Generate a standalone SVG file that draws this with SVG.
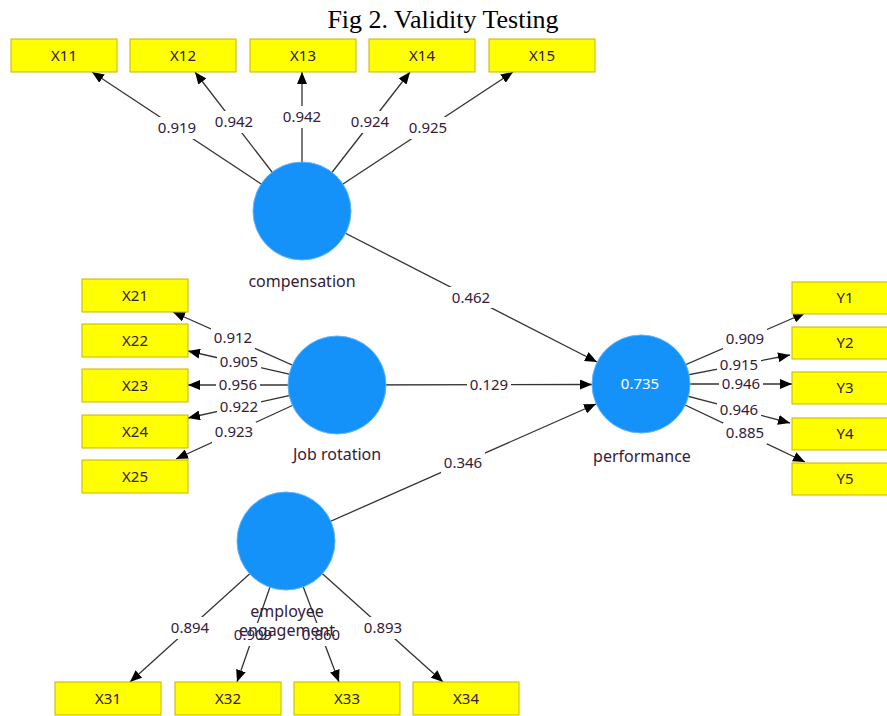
<svg xmlns="http://www.w3.org/2000/svg" width="887" height="716" viewBox="0 0 887 716">
  <style>
    .bg { fill: #ffffff; }
    .title { font-family: "Liberation Serif", "Times New Roman", serif; font-size: 26px; fill: #000; text-anchor: middle; }
    .ind rect { fill: #ffff00; stroke: #c8b400; stroke-width: 1; }
    .ind text { font-family: "Noto Sans", "Open Sans", sans-serif; font-size: 15px; fill: #33203a; text-anchor: middle; }
    .lv circle { fill: #1592fa; stroke: #5fb4ff; stroke-width: 1; }
    .lv text { font-family: "Noto Sans", "Open Sans", sans-serif; font-size: 16px; fill: #33203a; text-anchor: middle; }
    .lv text.r2 { font-size: 15px; fill: #ffffff; }
    .edge line { stroke: #333333; stroke-width: 1.3; marker-end: url(#arrow); }
    .edge rect { fill: #ffffff; }
    .edge text { font-family: "Noto Sans", "Open Sans", sans-serif; font-size: 15px; fill: #33203a; text-anchor: middle; }
  </style>
  <defs>
    <marker id="arrow" viewBox="0 0 12 10" refX="12" refY="5" markerWidth="12" markerHeight="10" markerUnits="userSpaceOnUse" orient="auto">
      <path d="M0,0 L12,5 L0,10 z" fill="#000000"/>
    </marker>
  </defs>
  <rect class="bg" x="0" y="0" width="887" height="716"/>
  <text class="title" x="443" y="28">Fig 2. Validity Testing</text>

  <!-- connectors: lines from construct centres, labels on white patches -->
  <g id="connectors" class="edge">
    <!-- compensation loadings -->
    <line x1="302" y1="211" x2="92" y2="72"/>
    <line x1="302" y1="211" x2="195" y2="72"/>
    <line x1="302" y1="211" x2="302" y2="72"/>
    <line x1="302" y1="211" x2="410" y2="72"/>
    <line x1="302" y1="211" x2="513" y2="72"/>
    <!-- job rotation loadings -->
    <line x1="337" y1="385" x2="173" y2="312"/>
    <line x1="337" y1="385" x2="188" y2="351"/>
    <line x1="337" y1="385" x2="188" y2="385"/>
    <line x1="337" y1="385" x2="188" y2="418"/>
    <line x1="337" y1="385" x2="176" y2="459"/>
    <!-- performance loadings -->
    <line x1="641" y1="384" x2="805" y2="313"/>
    <line x1="641" y1="384" x2="790" y2="355"/>
    <line x1="641" y1="384" x2="792" y2="384"/>
    <line x1="641" y1="384" x2="790" y2="423"/>
    <line x1="641" y1="384" x2="805" y2="462"/>
    <!-- employee engagement loadings -->
    <line x1="286" y1="541" x2="130" y2="682"/>
    <line x1="286" y1="541" x2="237" y2="682"/>
    <line x1="286" y1="541" x2="339" y2="682"/>
    <line x1="286" y1="541" x2="443" y2="682"/>
    <!-- structural paths -->
    <line x1="302" y1="211" x2="597" y2="362"/>
    <line x1="337" y1="385" x2="592" y2="384.5"/>
    <line x1="286" y1="541" x2="596" y2="404"/>

    <!-- label patches -->
    <rect x="155" y="117" width="44" height="22"/>
    <rect x="212" y="111" width="44" height="22"/>
    <rect x="280" y="106" width="44" height="22"/>
    <rect x="349" y="111" width="44" height="22"/>
    <rect x="406" y="117" width="44" height="22"/>
    <rect x="211" y="328" width="44" height="21"/>
    <rect x="217" y="353" width="44" height="19"/>
    <rect x="216" y="375" width="44" height="20"/>
    <rect x="217" y="397" width="44" height="19"/>
    <rect x="212" y="422" width="44" height="21"/>
    <rect x="723" y="328" width="44" height="21"/>
    <rect x="717" y="355" width="44" height="19"/>
    <rect x="719" y="374" width="44" height="20"/>
    <rect x="717" y="400" width="44" height="19"/>
    <rect x="723" y="423" width="44" height="21"/>
    <rect x="168" y="617" width="44" height="22"/>
    <rect x="231" y="623" width="44" height="23"/>
    <rect x="299" y="623" width="44" height="23"/>
    <rect x="361" y="617" width="44" height="22"/>
    <rect x="449" y="287" width="44" height="21"/>
    <rect x="467" y="375" width="44" height="20"/>
    <rect x="441" y="452" width="44" height="21"/>

    <!-- label values -->
    <text x="177" y="133">0.919</text>
    <text x="234" y="127">0.942</text>
    <text x="302" y="122">0.942</text>
    <text x="370" y="127">0.924</text>
    <text x="428" y="133">0.925</text>
    <text x="233" y="343">0.912</text>
    <text x="239" y="367">0.905</text>
    <text x="238" y="390">0.956</text>
    <text x="239" y="412">0.922</text>
    <text x="234" y="437">0.923</text>
    <text x="745" y="344">0.909</text>
    <text x="739" y="370">0.915</text>
    <text x="741" y="389">0.946</text>
    <text x="739" y="415">0.946</text>
    <text x="745" y="438">0.885</text>
    <text x="190" y="633">0.894</text>
    <text x="253" y="640">0.909</text>
    <text x="321" y="640">0.860</text>
    <text x="383" y="633">0.893</text>
    <text x="471" y="303">0.462</text>
    <text x="489" y="390">0.129</text>
    <text x="463" y="468">0.346</text>
  </g>

  <!-- latent constructs -->
  <g id="compensation" class="lv">
    <circle cx="302" cy="211" r="49"/>
    <text x="302" y="287">compensation</text>
  </g>
  <g id="job-rotation" class="lv">
    <circle cx="337" cy="385" r="49"/>
    <text x="337" y="460">Job rotation</text>
  </g>
  <g id="performance" class="lv">
    <circle cx="641" cy="384" r="49"/>
    <text class="r2" x="640" y="389">0.735</text>
    <text x="642" y="462">performance</text>
  </g>
  <g id="employee-engagement" class="lv">
    <circle cx="286" cy="541" r="49"/>
    <text x="287" y="617">employee</text>
    <text x="287" y="636">engagement</text>
  </g>

  <!-- indicators -->
  <g id="X11" class="ind"><rect x="11" y="39" width="106" height="33"/><text x="64" y="61">X11</text></g>
  <g id="X12" class="ind"><rect x="130" y="39" width="106" height="33"/><text x="183" y="61">X12</text></g>
  <g id="X13" class="ind"><rect x="250" y="39" width="106" height="33"/><text x="303" y="61">X13</text></g>
  <g id="X14" class="ind"><rect x="369" y="39" width="106" height="33"/><text x="422" y="61">X14</text></g>
  <g id="X15" class="ind"><rect x="489" y="39" width="106" height="33"/><text x="542" y="61">X15</text></g>

  <g id="X21" class="ind"><rect x="82" y="279" width="106" height="33"/><text x="135" y="301">X21</text></g>
  <g id="X22" class="ind"><rect x="82" y="324" width="106" height="33"/><text x="135" y="346">X22</text></g>
  <g id="X23" class="ind"><rect x="82" y="369" width="106" height="33"/><text x="135" y="391">X23</text></g>
  <g id="X24" class="ind"><rect x="82" y="415" width="106" height="33"/><text x="135" y="437">X24</text></g>
  <g id="X25" class="ind"><rect x="82" y="460" width="106" height="33"/><text x="135" y="482">X25</text></g>

  <g id="Y1" class="ind"><rect x="792" y="282" width="106" height="32"/><text x="845" y="303">Y1</text></g>
  <g id="Y2" class="ind"><rect x="792" y="327" width="106" height="32"/><text x="845" y="348">Y2</text></g>
  <g id="Y3" class="ind"><rect x="792" y="372" width="106" height="32"/><text x="845" y="393">Y3</text></g>
  <g id="Y4" class="ind"><rect x="792" y="418" width="106" height="32"/><text x="845" y="439">Y4</text></g>
  <g id="Y5" class="ind"><rect x="792" y="463" width="106" height="32"/><text x="845" y="484">Y5</text></g>

  <g id="X31" class="ind"><rect x="55" y="682" width="106" height="33"/><text x="108" y="704">X31</text></g>
  <g id="X32" class="ind"><rect x="175" y="682" width="106" height="33"/><text x="228" y="704">X32</text></g>
  <g id="X33" class="ind"><rect x="294" y="682" width="106" height="33"/><text x="347" y="704">X33</text></g>
  <g id="X34" class="ind"><rect x="413" y="682" width="106" height="33"/><text x="466" y="704">X34</text></g>
</svg>
